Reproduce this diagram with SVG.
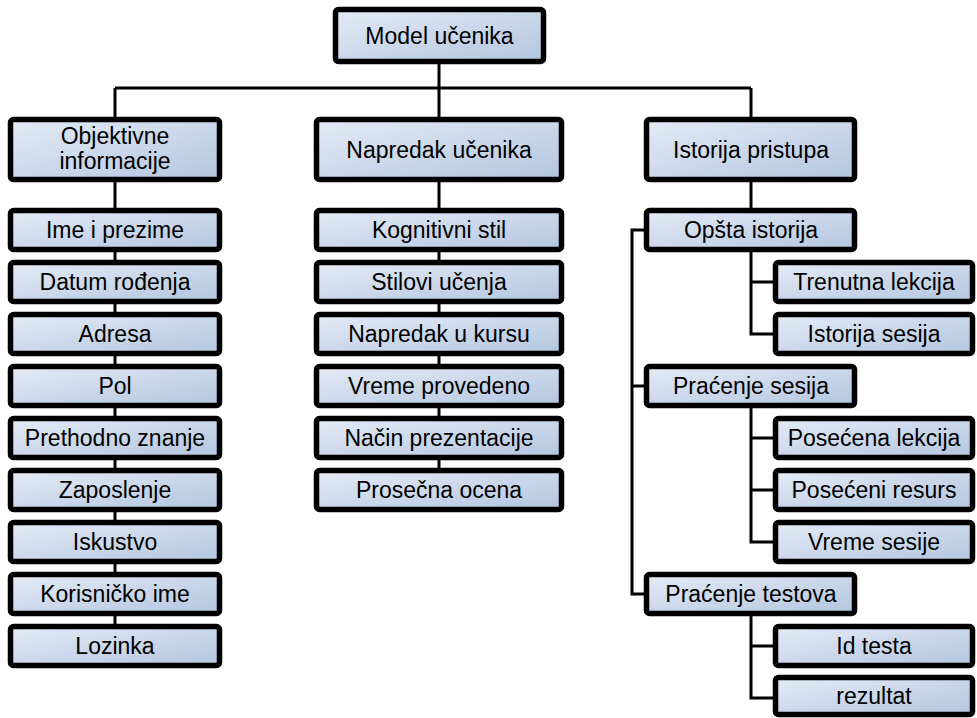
<svg xmlns="http://www.w3.org/2000/svg" width="977" height="718" viewBox="0 0 977 718">
<defs>
<linearGradient id="g" x1="0" y1="0" x2="1" y2="1">
<stop offset="0" stop-color="#e4ebf6"/>
<stop offset="1" stop-color="#b3c5df"/>
</linearGradient>
<style>
.b{fill:url(#g);stroke:#000;stroke-width:5.5}
.t{font-family:"Liberation Sans",Arial,sans-serif;font-size:23px;fill:#000;text-anchor:middle}
.c{fill:none;stroke:#000;stroke-width:3}
</style>
</defs>
<rect width="977" height="718" fill="#fff"/>
<g id="connectors" class="c">
<path d="M439 64V88M115 88H751M115 88V117M439 88V117M751 88V117"/>
<path d="M115 182V624"/>
<path d="M439 182V468"/>
<path d="M751 182V208"/>
<path d="M751 252V334H773M751 282H773"/>
<path d="M751 408V542H773M751 438H773M751 490H773"/>
<path d="M751 616V698H773M751 646H773"/>
<path d="M644 230H632V594H644M632 386H644"/>
</g>
<g id="model"><rect class="b" x="335.5" y="9.5" width="208" height="52" rx="3"/><text class="t" x="439.5" y="44">Model učenika</text></g>
<g id="objektivne"><rect class="b" x="10.5" y="119.5" width="209" height="60" rx="3"/><text class="t" x="115" y="144">Objektivne</text><text class="t" x="115" y="169">informacije</text></g>
<g id="napredak"><rect class="b" x="316.5" y="119.5" width="245" height="60" rx="3"/><text class="t" x="439" y="158">Napredak učenika</text></g>
<g id="istorija"><rect class="b" x="646.5" y="119.5" width="208" height="60" rx="3"/><text class="t" x="751" y="158">Istorija pristupa</text></g>

<g id="ime"><rect class="b" x="10.5" y="210.5" width="209" height="39" rx="3"/><text class="t" x="115" y="238">Ime i prezime</text></g>
<g id="datum"><rect class="b" x="10.5" y="262.5" width="209" height="39" rx="3"/><text class="t" x="115" y="290">Datum rođenja</text></g>
<g id="adresa"><rect class="b" x="10.5" y="314.5" width="209" height="39" rx="3"/><text class="t" x="115" y="342">Adresa</text></g>
<g id="pol"><rect class="b" x="10.5" y="366.5" width="209" height="39" rx="3"/><text class="t" x="115" y="394">Pol</text></g>
<g id="prethodno"><rect class="b" x="10.5" y="418.5" width="209" height="39" rx="3"/><text class="t" x="115" y="446">Prethodno znanje</text></g>
<g id="zaposlenje"><rect class="b" x="10.5" y="470.5" width="209" height="39" rx="3"/><text class="t" x="115" y="498">Zaposlenje</text></g>
<g id="iskustvo"><rect class="b" x="10.5" y="522.5" width="209" height="39" rx="3"/><text class="t" x="115" y="550">Iskustvo</text></g>
<g id="korisnicko"><rect class="b" x="10.5" y="574.5" width="209" height="39" rx="3"/><text class="t" x="115" y="602">Korisničko ime</text></g>
<g id="lozinka"><rect class="b" x="10.5" y="626.5" width="209" height="39" rx="3"/><text class="t" x="115" y="654">Lozinka</text></g>

<g id="kognitivni"><rect class="b" x="316.5" y="210.5" width="245" height="39" rx="3"/><text class="t" x="439" y="238">Kognitivni stil</text></g>
<g id="stilovi"><rect class="b" x="316.5" y="262.5" width="245" height="39" rx="3"/><text class="t" x="439" y="290">Stilovi učenja</text></g>
<g id="napredak-kurs"><rect class="b" x="316.5" y="314.5" width="245" height="39" rx="3"/><text class="t" x="439" y="342">Napredak u kursu</text></g>
<g id="vreme"><rect class="b" x="316.5" y="366.5" width="245" height="39" rx="3"/><text class="t" x="439" y="394">Vreme provedeno</text></g>
<g id="nacin"><rect class="b" x="316.5" y="418.5" width="245" height="39" rx="3"/><text class="t" x="439" y="446">Način prezentacije</text></g>
<g id="prosecna"><rect class="b" x="316.5" y="470.5" width="245" height="39" rx="3"/><text class="t" x="439" y="498">Prosečna ocena</text></g>

<g id="opsta"><rect class="b" x="646.5" y="210.5" width="208" height="39" rx="3"/><text class="t" x="751" y="238">Opšta istorija</text></g>
<g id="trenutna"><rect class="b" x="775.5" y="262.5" width="197" height="39" rx="3"/><text class="t" x="874" y="290">Trenutna lekcija</text></g>
<g id="istorija-sesija"><rect class="b" x="775.5" y="314.5" width="197" height="39" rx="3"/><text class="t" x="874" y="342">Istorija sesija</text></g>
<g id="pracenje-sesija"><rect class="b" x="646.5" y="366.5" width="208" height="39" rx="3"/><text class="t" x="751" y="394">Praćenje sesija</text></g>
<g id="posecena"><rect class="b" x="775.5" y="418.5" width="197" height="39" rx="3"/><text class="t" x="874" y="446">Posećena lekcija</text></g>
<g id="poseceni"><rect class="b" x="775.5" y="470.5" width="197" height="39" rx="3"/><text class="t" x="874" y="498">Posećeni resurs</text></g>
<g id="vreme-sesije"><rect class="b" x="775.5" y="522.5" width="197" height="39" rx="3"/><text class="t" x="874" y="550">Vreme sesije</text></g>
<g id="pracenje-testova"><rect class="b" x="646.5" y="574.5" width="208" height="39" rx="3"/><text class="t" x="751" y="602">Praćenje testova</text></g>
<g id="id-testa"><rect class="b" x="775.5" y="626.5" width="197" height="39" rx="3"/><text class="t" x="874" y="654">Id testa</text></g>
<g id="rezultat"><rect class="b" x="775.5" y="677.5" width="197" height="37" rx="3"/><text class="t" x="874" y="704">rezultat</text></g>
</svg>
